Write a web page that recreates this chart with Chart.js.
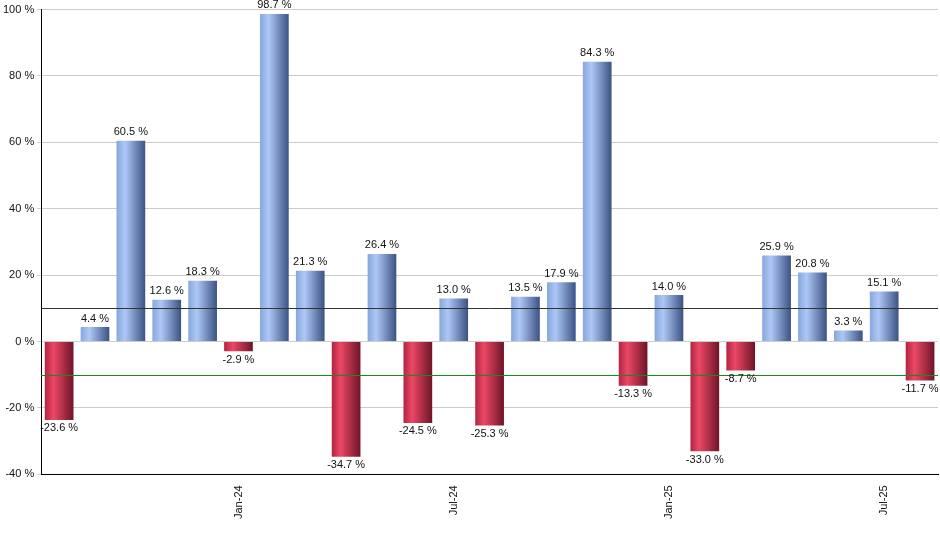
<!DOCTYPE html>
<html>
<head>
<meta charset="utf-8">
<script src="https://cdn.jsdelivr.net/npm/chart.js@4"></script>
<style>
  body { margin: 0; background: #fff; }
  #wrap { width: 940px; height: 550px; }
</style>
</head>
<body>
<div id="wrap"><canvas id="myChart"></canvas></div>
<script>
const months = ['Aug-23', 'Sep-23', 'Oct-23', 'Nov-23', 'Dec-23', 'Jan-24', 'Feb-24', 'Mar-24', 'Apr-24',
    'May-24', 'Jun-24', 'Jul-24', 'Aug-24', 'Sep-24', 'Oct-24', 'Nov-24', 'Dec-24', 'Jan-25', 'Feb-25',
    'Mar-25', 'Apr-25', 'May-25', 'Jun-25', 'Jul-25', 'Aug-25'];
const changes = [-23.6, 4.4, 60.5, 12.6, 18.3, -2.9, 98.7, 21.3, -34.7, 26.4, -24.5, 13.0, -25.3,
    13.5, 17.9, 84.3, -13.3, 14.0, -33.0, -8.7, 25.9, 20.8, 3.3, 15.1, -11.7];
const upperLine = 10;
const lowerLine = -10;

// horizontal gradient per bar, from the bar's own position
function barColor(c) {
    const v = changes[c.dataIndex];
    const bar = c.chart.getDatasetMeta(0).data[c.dataIndex];
    if (!bar || !bar.width) return v >= 0 ? '#7f9fd6' : '#c8304f';
    const x0 = bar.x - bar.width / 2, x1 = bar.x + bar.width / 2;
    const g = c.chart.ctx.createLinearGradient(x0, 0, x1, 0);
    if (v >= 0) {
        g.addColorStop(0, '#87a6dc');
        g.addColorStop(0.3, '#adc8f7');
        g.addColorStop(1, '#3b5283');
    } else {
        g.addColorStop(0, '#b02440');
        g.addColorStop(0.3, '#ec4865');
        g.addColorStop(1, '#6e1428');
    }
    return g;
}

const extras = {
    id: 'extras',
    afterDatasetsDraw(chart) {
        const ctx = chart.ctx;
        const y = chart.scales.y;
        const area = chart.chartArea;
        ctx.save();
        [[upperLine, '#333'], [lowerLine, '#1a8a1a']].forEach(([v, c]) => {
            const py = Math.round(y.getPixelForValue(v)) + 0.5;
            ctx.strokeStyle = c;
            ctx.lineWidth = 1;
            ctx.beginPath();
            ctx.moveTo(area.left, py);
            ctx.lineTo(area.right, py);
            ctx.stroke();
        });
        ctx.fillStyle = '#111';
        ctx.font = '11px "Liberation Sans", Arial, sans-serif';
        ctx.textAlign = 'center';
        chart.getDatasetMeta(0).data.forEach((bar, i) => {
            const v = changes[i];
            const txt = v.toFixed(1) + ' %';
            if (v >= 0) {
                ctx.textBaseline = 'bottom';
                ctx.fillText(txt, bar.x, bar.y - 3);
            } else {
                ctx.textBaseline = 'top';
                ctx.fillText(txt, bar.x, bar.y + 3);
            }
        });
        ctx.restore();
    }
};

const ctx = document.getElementById('myChart').getContext('2d');
const chart = new Chart(ctx, {
    type: 'bar',
    data: {
        labels: months,
        datasets: [{
            data: changes,
            backgroundColor: barColor,
            categoryPercentage: 0.8,
            barPercentage: 1.0
        }]
    },
    options: {
        responsive: true,
        maintainAspectRatio: false,
        animation: false,
        layout: { padding: { top: 4, right: 2, left: 0, bottom: 28 } },
        plugins: { legend: { display: false }, tooltip: { enabled: false } },
        scales: {
            x: {
                grid: { display: false },
                border: { color: '#000' },
                ticks: {
                    autoSkip: false,
                    maxRotation: 90,
                    minRotation: 90,
                    color: '#111',
                    font: { size: 11, family: '"Liberation Sans", Arial, sans-serif' },
                    callback: function (val, i) {
                        const m = months[i];
                        return (m.startsWith('Jan') || m.startsWith('Jul')) ? m : '';
                    }
                }
            },
            y: {
                min: -40,
                max: 100,
                grid: { color: '#cccccc', tickLength: 4 },
                border: { color: '#000' },
                ticks: {
                    stepSize: 20,
                    color: '#111',
                    font: { size: 11, family: '"Liberation Sans", Arial, sans-serif' },
                    callback: v => v + ' %'
                }
            }
        }
    },
    plugins: [extras]
});
chart.update();
</script>
</body>
</html>
